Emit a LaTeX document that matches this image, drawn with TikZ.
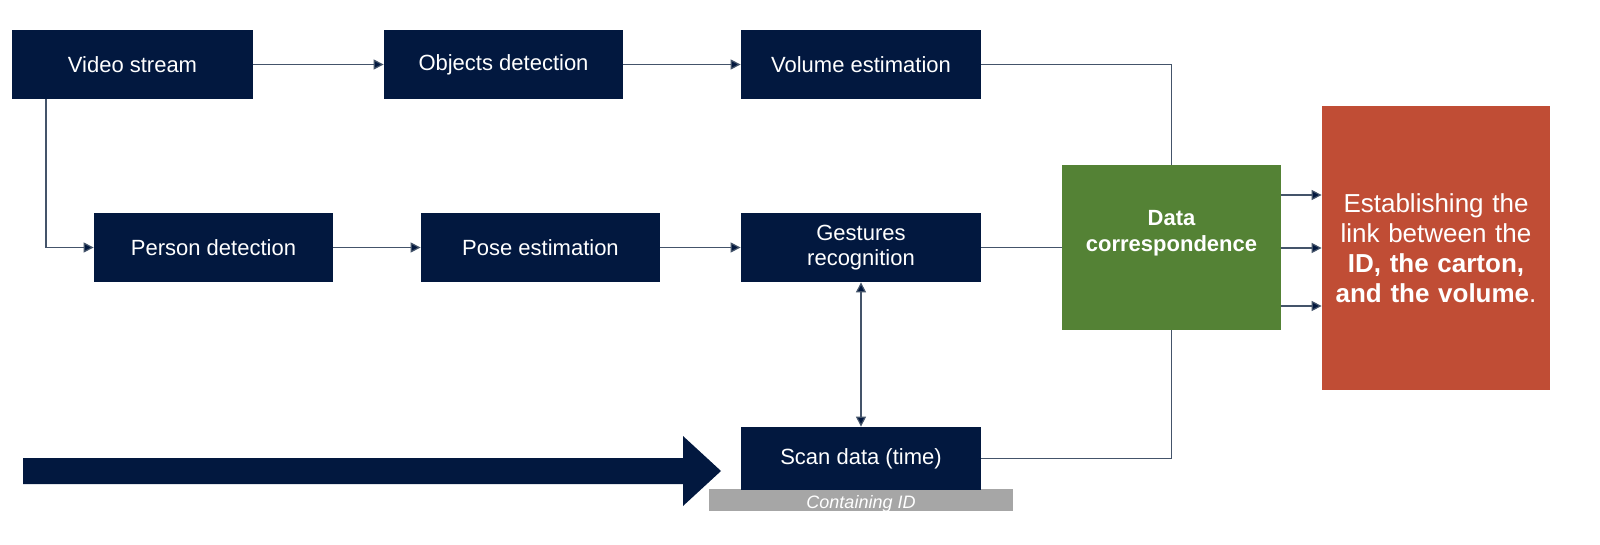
\documentclass[tikz,border=0pt]{standalone}
\usepackage{fontspec}
\setmainfont{Liberation Sans}
\usetikzlibrary{arrows.meta}
\definecolor{navy}{HTML}{02183F}
\definecolor{grn}{HTML}{548235}
\definecolor{rd}{HTML}{C04D35}
\definecolor{ln}{HTML}{44546A}
\definecolor{gry}{HTML}{A6A6A6}
\begin{document}
\begin{tikzpicture}[x=0.5pt,y=-0.5pt,
  box/.style={fill=navy,text=white,font=\fontsize{11}{12.5}\selectfont,align=center,inner sep=0},
  con/.style={draw=ln,line width=0.6pt},
  arr/.style={con,-{Triangle[length=5pt,width=5pt,fill=navy]}}]
\node[box,minimum width=120.5pt,minimum height=34.5pt] (vs) at (132.5,64.5) {Video stream};
\node[box,minimum width=119.5pt,minimum height=34.5pt] (od) at (503.5,64.5) {Objects detection};
\node[box,minimum width=120pt,minimum height=34.5pt] (ve) at (861,64.5) {Volume estimation};
\node[box,minimum width=119.5pt,minimum height=34.5pt] (pd) at (213.5,247.5) {Person detection};
\node[box,minimum width=119.5pt,minimum height=34.5pt] (pe) at (540.5,247.5) {Pose estimation};
\node[box,minimum width=120pt,minimum height=34.5pt] (gr) at (861,247.5) {Gestures\\recognition};
\node[fill=gry,minimum width=152pt,minimum height=11pt,inner sep=0,anchor=north] (cid) at (861,489) {};
\node[text=white,font=\fontsize{9}{10}\selectfont\itshape,anchor=base] (cidt) at (861,508) {Containing ID};
\node[box,minimum width=120pt,minimum height=31.5pt] (sd) at (861,458.5) {Scan data (time)};
\node[fill=grn,text=white,font=\fontsize{11}{13}\selectfont\bfseries,align=center,minimum width=109.5pt,minimum height=82.5pt,inner sep=0] (dc) at (1171.5,247.5) {Data\\correspondence\\[4pt]};
\node[fill=rd,text=white,font=\fontsize{13}{15}\selectfont,align=center,text width=110pt,minimum width=114pt,minimum height=142pt,inner sep=2pt] (res) at (1436,248) {Establishing the\\link between the\\\textbf{ID, the carton,}\\\textbf{and the volume}.};
\fill[navy] (23,458) -- (683,458) -- (683,436) -- (721,471) -- (683,506) -- (683,484) -- (23,484) -- cycle;
\draw[arr] (vs.east) -- (od.west);
\draw[arr] (od.east) -- (ve.west);
\draw[con] (ve.east) -| (dc.north);
\draw[arr] (vs.south -| 46,0) |- (pd.west);
\draw[arr] (pd.east) -- (pe.west);
\draw[arr] (pe.east) -- (gr.west);
\draw[con] (gr.east) -- (dc.west);
\draw[con,{Triangle[length=5pt,width=5pt,fill=navy]}-{Triangle[length=5pt,width=5pt,fill=navy]}] (gr.south) -- (sd.north);
\draw[con] (sd.east) -| (dc.south);
\foreach \y in {195,248,306} \draw[arr] (dc.east |- 0,\y) -- (res.west |- 0,\y);
\pgfresetboundingbox
\useasboundingbox (0,0) rectangle (1600,545);
\end{tikzpicture}
\end{document}
